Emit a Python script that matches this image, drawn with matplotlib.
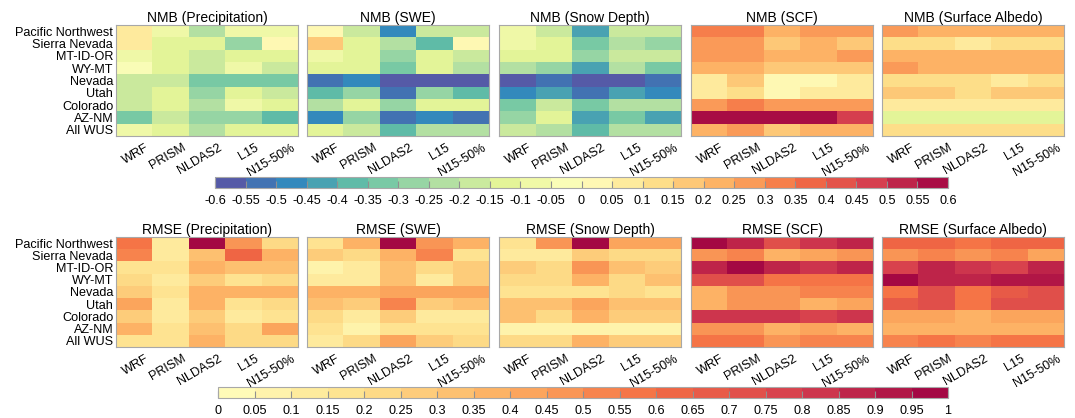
import numpy as np
import matplotlib
matplotlib.use("Agg")
import matplotlib.pyplot as plt
import matplotlib.transforms as mtrans
from matplotlib.colors import ListedColormap, BoundaryNorm

plt.rcParams['font.family'] = ['Liberation Sans', 'DejaVu Sans']

regions = ["Pacific Northwest", "Sierra Nevada", "MT-ID-OR", "WY-MT", "Nevada",
           "Utah", "Colorado", "AZ-NM", "All WUS"]
datasets = ["WRF", "PRISM", "NLDAS2", "L15", "N15-50%"]
variables = ["Precipitation", "SWE", "Snow Depth", "SCF", "Surface Albedo"]

nmb_precip = [[0.07, -0.07, -0.22, -0.07, -0.07],
              [0.07, -0.12, -0.12, -0.27, 0.02],
              [-0.07, -0.12, -0.17, -0.12, -0.12],
              [-0.02, -0.12, -0.17, -0.07, -0.17],
              [-0.17, -0.17, -0.32, -0.32, -0.32],
              [-0.17, -0.12, -0.27, -0.12, -0.17],
              [-0.17, -0.12, -0.22, -0.07, -0.12],
              [-0.32, -0.17, -0.27, -0.27, -0.37],
              [-0.07, -0.12, -0.22, -0.12, -0.12]]
nmb_swe = [[0.02, -0.17, -0.47, -0.17, -0.17],
           [0.17, -0.12, -0.22, -0.37, 0.02],
           [-0.07, -0.12, -0.27, -0.12, -0.17],
           [-0.12, -0.12, -0.32, -0.12, -0.22],
           [-0.52, -0.47, -0.57, -0.57, -0.57],
           [-0.37, -0.27, -0.52, -0.27, -0.37],
           [-0.22, -0.12, -0.27, -0.12, -0.12],
           [-0.47, -0.27, -0.52, -0.47, -0.52],
           [-0.12, -0.17, -0.37, -0.22, -0.22]]
nmb_depth = [[-0.07, -0.17, -0.42, -0.17, -0.17],
             [-0.07, -0.12, -0.32, -0.22, -0.27],
             [-0.12, -0.12, -0.27, -0.17, -0.17],
             [-0.22, -0.27, -0.42, -0.22, -0.32],
             [-0.57, -0.52, -0.57, -0.57, -0.52],
             [-0.47, -0.42, -0.52, -0.42, -0.47],
             [-0.32, -0.17, -0.32, -0.22, -0.22],
             [-0.27, -0.12, -0.42, -0.32, -0.42],
             [-0.17, -0.22, -0.37, -0.22, -0.22]]
nmb_scf = [[0.32, 0.32, 0.22, 0.27, 0.27],
           [0.27, 0.27, 0.17, 0.22, 0.17],
           [0.27, 0.27, 0.22, 0.22, 0.27],
           [0.22, 0.22, 0.17, 0.17, 0.17],
           [0.07, 0.17, 0.02, 0.02, 0.07],
           [0.07, 0.12, 0.02, 0.07, 0.07],
           [0.27, 0.32, 0.27, 0.27, 0.27],
           [0.57, 0.57, 0.57, 0.57, 0.47],
           [0.22, 0.27, 0.17, 0.22, 0.22]]
nmb_albedo = [[0.27, 0.22, 0.22, 0.22, 0.22],
              [0.12, 0.12, 0.07, 0.12, 0.12],
              [0.22, 0.22, 0.22, 0.22, 0.22],
              [0.27, 0.22, 0.22, 0.22, 0.22],
              [0.12, 0.12, 0.12, 0.07, 0.12],
              [0.17, 0.17, 0.12, 0.17, 0.17],
              [0.07, 0.07, 0.07, 0.07, 0.07],
              [-0.12, -0.12, -0.12, -0.12, -0.12],
              [0.12, 0.12, 0.12, 0.12, 0.12]]

rmse_precip = [[0.57, 0.12, 0.97, 0.47, 0.22],
               [0.52, 0.12, 0.32, 0.62, 0.37],
               [0.17, 0.17, 0.37, 0.32, 0.32],
               [0.22, 0.12, 0.27, 0.17, 0.22],
               [0.27, 0.17, 0.37, 0.37, 0.37],
               [0.42, 0.12, 0.37, 0.17, 0.22],
               [0.27, 0.12, 0.27, 0.12, 0.17],
               [0.37, 0.17, 0.32, 0.22, 0.42],
               [0.17, 0.17, 0.37, 0.22, 0.22]]
rmse_swe = [[0.17, 0.37, 0.97, 0.47, 0.37],
            [0.27, 0.22, 0.37, 0.52, 0.17],
            [0.07, 0.12, 0.32, 0.22, 0.27],
            [0.12, 0.12, 0.32, 0.12, 0.27],
            [0.37, 0.37, 0.42, 0.42, 0.42],
            [0.32, 0.27, 0.52, 0.27, 0.32],
            [0.22, 0.12, 0.27, 0.12, 0.12],
            [0.17, 0.07, 0.17, 0.17, 0.17],
            [0.12, 0.22, 0.42, 0.27, 0.22]]
rmse_depth = [[0.17, 0.47, 0.97, 0.42, 0.42],
              [0.12, 0.12, 0.27, 0.22, 0.22],
              [0.27, 0.22, 0.47, 0.32, 0.27],
              [0.22, 0.22, 0.37, 0.22, 0.32],
              [0.17, 0.17, 0.17, 0.22, 0.17],
              [0.32, 0.32, 0.42, 0.32, 0.32],
              [0.32, 0.22, 0.37, 0.27, 0.27],
              [0.07, 0.07, 0.07, 0.07, 0.07],
              [0.22, 0.22, 0.37, 0.27, 0.27]]
rmse_scf = [[0.97, 0.87, 0.72, 0.82, 0.87],
            [0.47, 0.52, 0.37, 0.42, 0.47],
            [0.87, 0.97, 0.87, 0.82, 0.87],
            [0.72, 0.72, 0.57, 0.57, 0.57],
            [0.37, 0.47, 0.47, 0.52, 0.52],
            [0.37, 0.47, 0.47, 0.37, 0.42],
            [0.82, 0.82, 0.82, 0.77, 0.82],
            [0.47, 0.47, 0.37, 0.42, 0.37],
            [0.57, 0.57, 0.47, 0.52, 0.52]]
rmse_albedo = [[0.62, 0.62, 0.57, 0.62, 0.62],
               [0.47, 0.52, 0.47, 0.52, 0.42],
               [0.77, 0.87, 0.82, 0.77, 0.87],
               [0.97, 0.87, 0.87, 0.92, 0.92],
               [0.57, 0.72, 0.57, 0.67, 0.72],
               [0.67, 0.72, 0.57, 0.72, 0.72],
               [0.42, 0.42, 0.37, 0.42, 0.42],
               [0.37, 0.37, 0.37, 0.37, 0.37],
               [0.52, 0.57, 0.52, 0.57, 0.57]]

nmb_ticks = [-0.6, -0.55, -0.5, -0.45, -0.4, -0.35, -0.3, -0.25, -0.2, -0.15, -0.1, -0.05,
             0, 0.05, 0.1, 0.15, 0.2, 0.25, 0.3, 0.35, 0.4, 0.45, 0.5, 0.55, 0.6]
rmse_ticks = [0, 0.05, 0.1, 0.15, 0.2, 0.25, 0.3, 0.35, 0.4, 0.45, 0.5, 0.55, 0.6, 0.65,
              0.7, 0.75, 0.8, 0.85, 0.9, 0.95, 1]

nmb_data = [nmb_precip, nmb_swe, nmb_depth, nmb_scf, nmb_albedo]
rmse_data = [rmse_precip, rmse_swe, rmse_depth, rmse_scf, rmse_albedo]

spec = plt.get_cmap('Spectral_r')
n1 = len(nmb_ticks) - 1
cmap_nmb = ListedColormap([spec((i + 0.5) / n1) for i in range(n1)])
norm_nmb = BoundaryNorm(nmb_ticks, n1)
n2 = len(rmse_ticks) - 1
cmap_rmse = ListedColormap([spec(0.5 + 0.5 * (i + 0.5) / n2) for i in range(n2)])
norm_rmse = BoundaryNorm(rmse_ticks, n2)

W, H = 1075, 418
fig = plt.figure(figsize=(W / 100, H / 100), dpi=100)

lefts = [116, 307, 499, 691, 882]
pw = 182
frame_col = '#a8a8a8'
fs = 9.1


def add_row(top, bottom, data, prefix, cmap, norm):
    im = None
    offset = mtrans.ScaledTranslation(11 / 100, 0, fig.dpi_scale_trans)
    for j, (left, d) in enumerate(zip(lefts, data)):
        ax = fig.add_axes([left / W, 1 - bottom / H, pw / W, (bottom - top) / H])
        im = ax.imshow(np.array(d), cmap=cmap, norm=norm, aspect='auto',
                       interpolation='nearest')
        ax.set_title(f"{prefix} ({variables[j]})", fontsize=10.0, pad=2)
        ax.set_xticks(range(len(datasets)))
        ax.set_xticklabels(datasets, rotation=30, ha='right', rotation_mode='anchor',
                           fontsize=fs)
        ax.set_yticks(range(len(regions)))
        if j == 0:
            ax.set_yticklabels(regions, fontsize=fs)
        else:
            ax.set_yticklabels([])
        ax.tick_params(length=0, pad=2)
        ax.tick_params(axis='x', pad=4)
        for s in ax.spines.values():
            s.set_color(frame_col)
            s.set_linewidth(0.8)
        for lbl in ax.get_xticklabels():
            lbl.set_transform(lbl.get_transform() + offset)
    return im


im1 = add_row(25, 136, nmb_data, "NMB", cmap_nmb, norm_nmb)
im2 = add_row(237, 347, rmse_data, "RMSE", cmap_rmse, norm_rmse)


def add_cbar(im, x0, x1, y0, y1, ticks):
    cax = fig.add_axes([x0 / W, 1 - y1 / H, (x1 - x0) / W, (y1 - y0) / H])
    cb = fig.colorbar(im, cax=cax, orientation='horizontal', ticks=ticks)
    cb.set_ticklabels([f"{t:g}" for t in ticks])
    cb.ax.tick_params(direction='in', length=5, color='#909090', labelsize=fs, pad=5)
    cb.outline.set_edgecolor(frame_col)
    cb.outline.set_linewidth(0.8)
    return cb


add_cbar(im1, 215, 948, 177, 188, nmb_ticks)
add_cbar(im2, 218, 948, 387, 398, rmse_ticks)

fig.savefig("out.png", dpi=100)
